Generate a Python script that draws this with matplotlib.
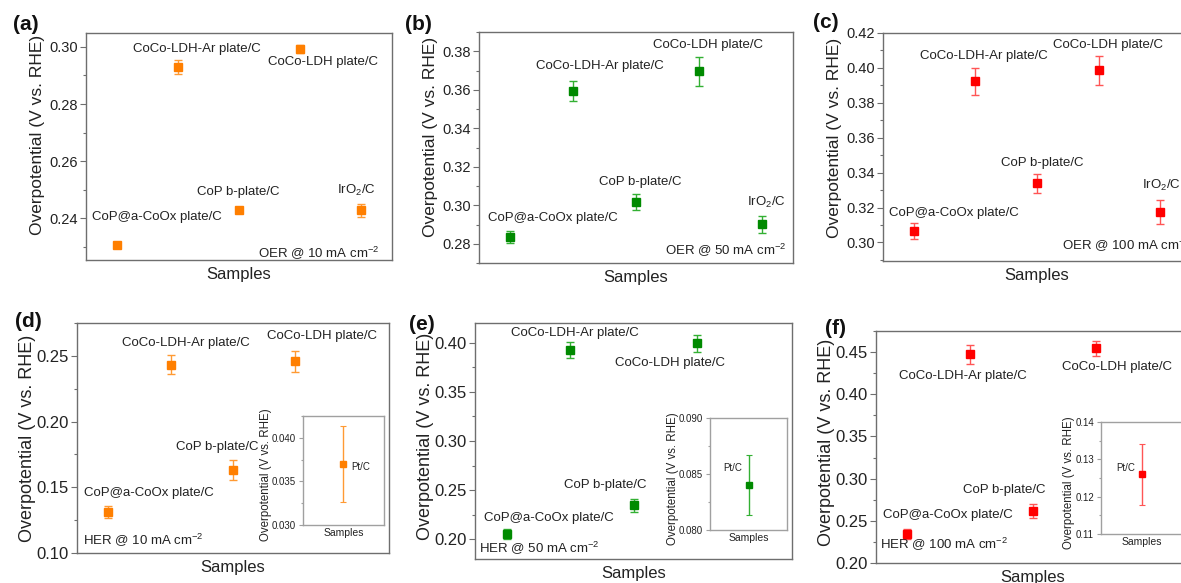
import matplotlib
matplotlib.use("Agg")
import matplotlib.pyplot as plt
from matplotlib.ticker import MultipleLocator, FormatStrFormatter

plt.rcParams['font.family'] = ['Liberation Sans', 'DejaVu Sans']
plt.rcParams['mathtext.default'] = 'regular'

# ---- data ----
samples = ["CoP@a-CoOx plate/C", "CoCo-LDH-Ar plate/C", "CoP b-plate/C",
           "CoCo-LDH plate/C", "IrO$_2$/C"]

oer10 = [0.2304, 0.2930, 0.2427, 0.2994, 0.2427]
oer10_err = [0.0010, 0.0026, 0.0010, 0.0014, 0.0023]
oer50 = [0.2836, 0.3593, 0.3016, 0.3697, 0.2902]
oer50_err = [0.0031, 0.0053, 0.0042, 0.0075, 0.0044]
oer100 = [0.3067, 0.3923, 0.3340, 0.3987, 0.3175]
oer100_err = [0.0047, 0.0077, 0.0055, 0.0082, 0.0069]

her10 = [0.1309, 0.2434, 0.1631, 0.2459]
her10_err = [0.0046, 0.0072, 0.0074, 0.0079]
her50 = [0.2051, 0.3929, 0.2347, 0.3993]
her50_err = [0.0050, 0.0082, 0.0066, 0.0090]
her100 = [0.2345, 0.4472, 0.2618, 0.4544]
her100_err = [0.0060, 0.0110, 0.0083, 0.0085]

ptc = [0.037, 0.084, 0.126]
ptc_err = [0.0044, 0.0027, 0.0082]

ORANGE, ORANGE_E = '#ff7f00', '#ff9a33'
GREEN, GREEN_E = '#008a00', '#33b033'
RED, RED_E = '#ff0000', '#ff5555'
SPINE = '#6e6e6e'
TXT = '#222222'

W, H = 1181.0, 583.0


def px_axes(fig, left, right, top, bottom):
    return fig.add_axes([left / W, 1 - bottom / H, (right - left) / W, (bottom - top) / H])


def style_axis(ax, tick_size, spine_color=SPINE, ticklen=4):
    for s in ax.spines.values():
        s.set_color(spine_color)
        s.set_linewidth(1.0)
    ax.set_xticks([])
    ax.tick_params(axis='y', which='both', direction='out', colors=spine_color,
                   labelcolor=TXT, labelsize=tick_size, width=0.8, pad=2)
    ax.tick_params(axis='y', which='major', length=ticklen)
    ax.tick_params(axis='y', which='minor', length=ticklen * 0.6)


def main_panel(ax, vals, errs, color, ecolor, ylim, major, fmt, label_pos,
               note, note_xy, note_ha, tick_size, ylabel_size, ypad, ylab_y, tag, tag_xy):
    x = list(range(1, len(vals) + 1))
    ax.errorbar(x, vals, yerr=errs, fmt='s', color=color, ecolor=ecolor,
                markersize=5.5, elinewidth=1.0, capsize=3, capthick=1.0, zorder=3)
    ax.set_xlim(0.5, 5.5)
    ax.set_ylim(*ylim)
    ax.yaxis.set_major_locator(MultipleLocator(major))
    ax.yaxis.set_minor_locator(MultipleLocator(major / 2))
    ax.yaxis.set_major_formatter(FormatStrFormatter(fmt))
    style_axis(ax, tick_size)
    ax.set_ylabel("Overpotential (V vs. RHE)", fontsize=ylabel_size, color=TXT, labelpad=ypad)
    ax.yaxis.label.set_y(ylab_y)
    ax.set_xlabel("Samples", fontsize=12, color=TXT, labelpad=5)
    for name, (lx, ly) in zip(samples, label_pos):
        ax.text(lx, ly, name, ha='center', va='center', fontsize=9.5, color=TXT,
                clip_on=False)
    ax.text(note_xy[0], note_xy[1], note, transform=ax.transAxes, ha=note_ha,
            va='center', fontsize=9.5, color=TXT, clip_on=False)
    fig.text(tag_xy[0] / W, 1 - tag_xy[1] / H, tag, fontsize=15, fontweight='bold',
             ha='center', va='center', color='#111111')


def inset_panel(ax, val, err, color, ecolor, ylim, major, fmt, lab_xy, lab_ha):
    ax.errorbar([1], [val], yerr=[err], fmt='s', color=color, ecolor=ecolor,
                markersize=4, elinewidth=1.0, capsize=2, capthick=0.8, zorder=3)
    ax.set_xlim(0.5, 1.5)
    ax.set_ylim(*ylim)
    ax.yaxis.set_major_locator(MultipleLocator(major))
    ax.yaxis.set_minor_locator(MultipleLocator(major / 2))
    ax.yaxis.set_major_formatter(FormatStrFormatter(fmt))
    style_axis(ax, 7, spine_color='#a0a0a0', ticklen=3)
    ax.set_ylabel("Overpotential (V vs. RHE)", fontsize=8.3, color=TXT, labelpad=0)
    ax.yaxis.label.set_y(0.46)
    ax.set_xlabel("Samples", fontsize=7.5, color=TXT, labelpad=2)
    ax.text(lab_xy[0], lab_xy[1], "Pt/C", ha=lab_ha, va='center', fontsize=7, color=TXT)


fig = plt.figure(figsize=(W / 100, H / 100), dpi=100)
fig.patch.set_facecolor('white')

# (a) OER @ 10
ax = px_axes(fig, 86, 392, 33, 260)
main_panel(ax, oer10, oer10_err, ORANGE, ORANGE_E, (0.2253, 0.3049), 0.02, '%.2f',
           [(1.65, 0.2405), (2.31, 0.2992), (2.99, 0.2492), (4.38, 0.2947), (4.91, 0.2498)],
           "OER @ 10 mA cm$^{-2}$", (0.958, 0.03), 'right', 10.5, 12.5, 3, 0.55,
           "(a)", (26, 24))

# (b) OER @ 50
ax = px_axes(fig, 479, 793, 32, 263)
main_panel(ax, oer50, oer50_err, GREEN, GREEN_E, (0.27, 0.39), 0.02, '%.2f',
           [(1.67, 0.2933), (2.43, 0.3722), (3.06, 0.3121), (4.15, 0.3834), (5.08, 0.3016)],
           "OER @ 50 mA cm$^{-2}$", (0.98, 0.055), 'right', 10.5, 12.5, 3, 0.545,
           "(b)", (418, 25))

# (c) OER @ 100
ax = px_axes(fig, 883, 1191, 33, 261)
main_panel(ax, oer100, oer100_err, RED, RED_E, (0.2894, 0.42), 0.02, '%.2f',
           [(1.65, 0.3169), (2.13, 0.4067), (3.08, 0.3453), (4.16, 0.4134), (5.02, 0.3328)],
           "OER @ 100 mA cm$^{-2}$", (0.58, 0.07), 'left', 10.5, 12.5, 3, 0.54,
           "(c)", (826, 23))

# (d) HER @ 10
ax = px_axes(fig, 77, 389, 323, 553)
main_panel(ax, her10, her10_err, ORANGE, ORANGE_E, (0.10, 0.275), 0.05, '%.2f',
           [(1.65, 0.146), (2.24, 0.2597), (2.75, 0.1805), (4.43, 0.2648)],
           "HER @ 10 mA cm$^{-2}$", (0.02, 0.055), 'left', 12, 13, 0.5, 0.50,
           "(d)", (28, 321))
ax = px_axes(fig, 303, 384, 416, 525)
inset_panel(ax, ptc[0], ptc_err[0], ORANGE, ORANGE_E, (0.030, 0.0425), 0.005, '%.3f',
            (1.09, 0.0367), 'left')

# (e) HER @ 50
ax = px_axes(fig, 475, 792, 323, 559)
main_panel(ax, her50, her50_err, GREEN, GREEN_E, (0.18, 0.42), 0.05, '%.2f',
           [(1.66, 0.2221), (2.08, 0.4102), (2.56, 0.2548), (3.57, 0.3796)],
           "HER @ 50 mA cm$^{-2}$", (0.012, 0.045), 'left', 12, 13, 0.5, 0.52,
           "(e)", (422, 324))
ax = px_axes(fig, 710, 787, 418, 530)
inset_panel(ax, ptc[1], ptc_err[1], GREEN, GREEN_E, (0.080, 0.090), 0.005, '%.3f',
            (0.79, 0.0855), 'center')

# (f) HER @ 100
ax = px_axes(fig, 876, 1190, 331, 563)
main_panel(ax, her100, her100_err, RED, RED_E, (0.20, 0.475), 0.05, '%.2f',
           [(1.64, 0.2574), (1.88, 0.4211), (2.55, 0.2864), (4.33, 0.4318)],
           "HER @ 100 mA cm$^{-2}$", (0.013, 0.08), 'left', 12, 13, 0.5, 0.52,
           "(f)", (836, 329))
ax = px_axes(fig, 1101, 1183, 422, 534)
inset_panel(ax, ptc[2], ptc_err[2], RED, RED_E, (0.11, 0.14), 0.01, '%.2f',
            (0.80, 0.1278), 'center')

fig.savefig("out.png", dpi=100, facecolor='white')
